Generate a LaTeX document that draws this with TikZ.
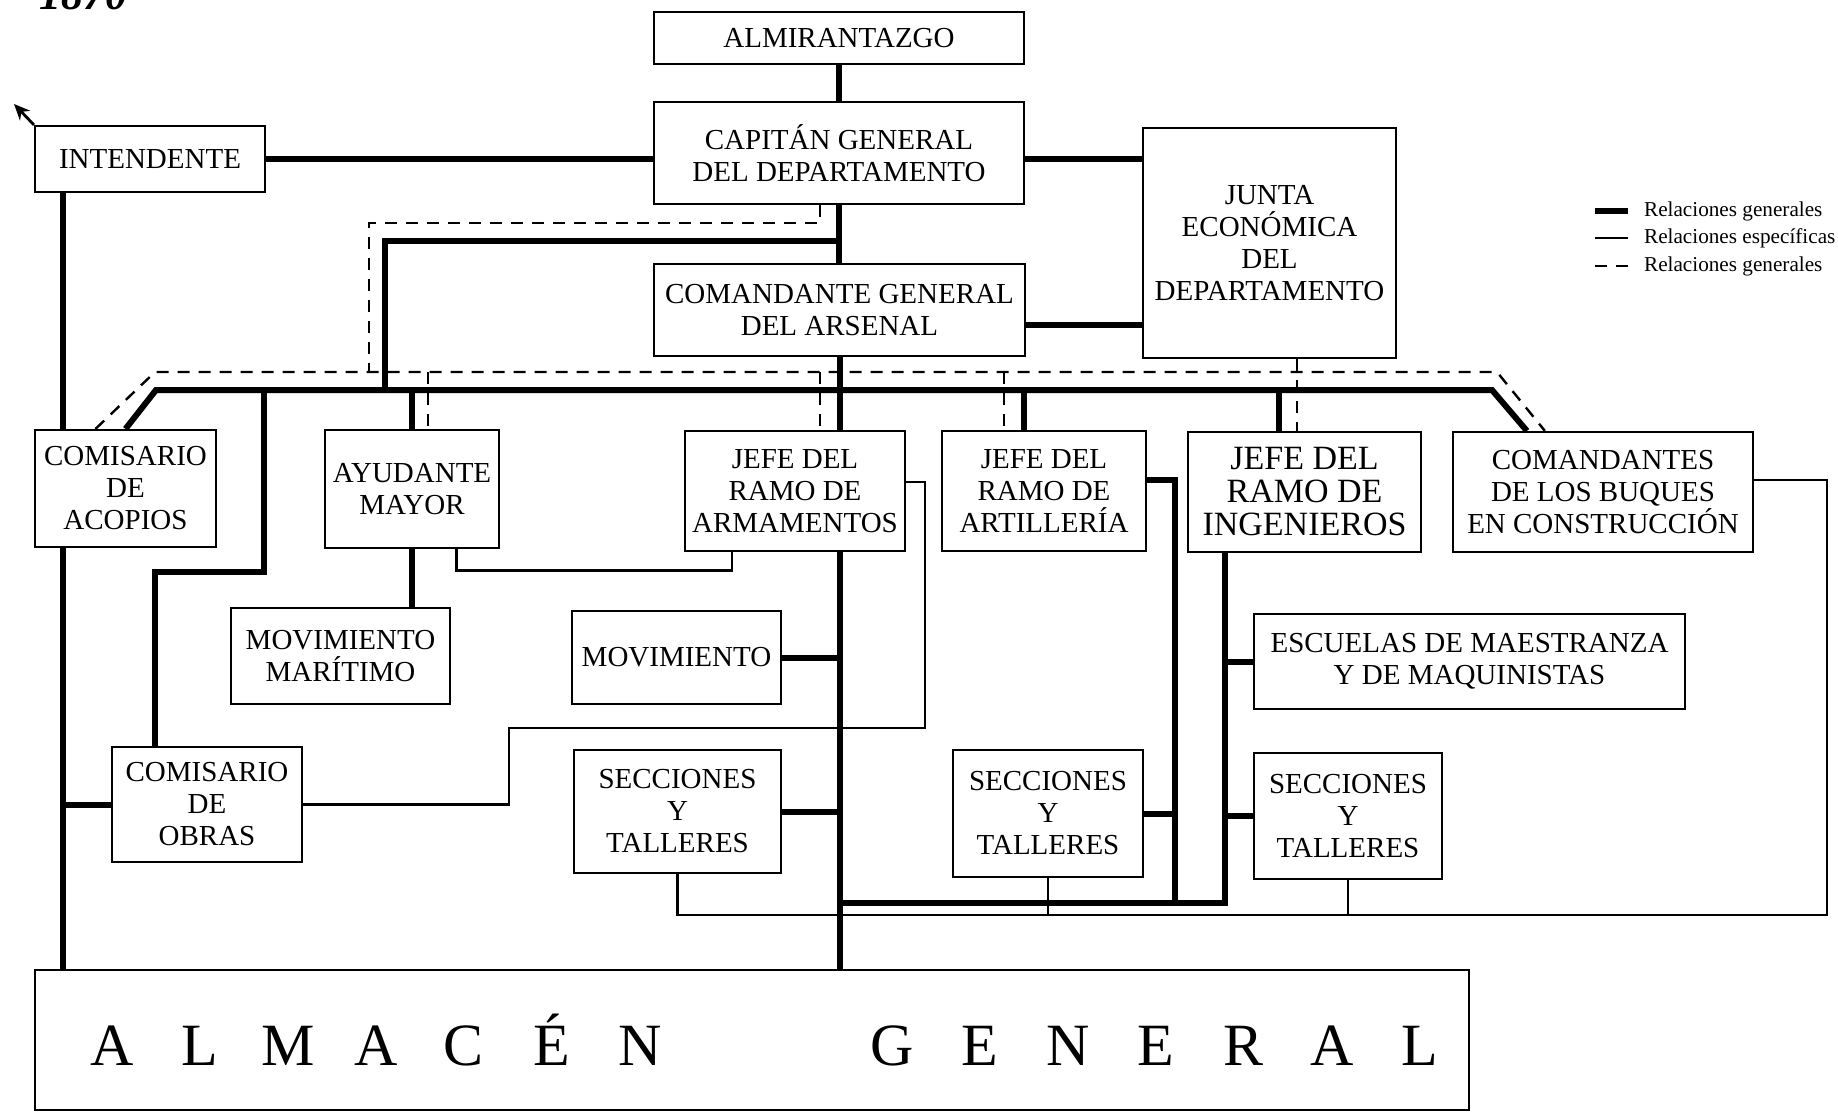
\documentclass[tikz,border=0pt]{standalone}
\usepackage{fontspec}
\setmainfont{Liberation Serif}
\usetikzlibrary{arrows.meta}
\newcommand\letra[1]{\makebox[44pt]{#1}}

\begin{document}
\begin{tikzpicture}
  [x=0.5pt,y=-0.5pt,
   every node/.style={draw,line width=1.1pt,align=center,inner sep=2pt,font=\fontsize{14.5}{16}\selectfont},
   relgen/.style={line width=3pt},
   relesp/.style={line width=1.4pt},
   reldis/.style={line width=1.2pt,dash pattern=on 6pt off 4.5pt}]
  \useasboundingbox (0,0) rectangle (1838,1113);

  \node[draw=none,inner sep=0pt,anchor=base west,font=\bfseries\itshape\fontsize{22}{22}\selectfont] (anio) at (38,10) {1870};

  \node[minimum width=185pt,minimum height=26pt] (alm) at (839,38) {ALMIRANTAZGO};
  \node[minimum width=185pt,minimum height=51pt] (cap) at (839,153) {CAPITÁN GENERAL\\DEL DEPARTAMENTO};
  \node[minimum width=115pt,minimum height=33pt] (int) at (150,159) {INTENDENTE};
  \node[minimum width=126.5pt,minimum height=115pt] (jun) at (1269.5,243) {JUNTA\\ECONÓMICA\\DEL\\DEPARTAMENTO};
  \node[minimum width=185.5pt,minimum height=46pt] (com) at (839.5,310) {COMANDANTE GENERAL\\DEL ARSENAL};
  \node[minimum width=90.5pt,minimum height=58.5pt] (aco) at (125.5,488.5) {COMISARIO\\DE\\ACOPIOS};
  \node[minimum width=87pt,minimum height=59pt] (ayu) at (412,489) {AYUDANTE\\MAYOR};
  \node[minimum width=110pt,minimum height=60pt] (arm) at (795,491) {JEFE DEL\\RAMO DE\\ARMAMENTOS};
  \node[minimum width=102pt,minimum height=60pt] (art) at (1044,491) {JEFE DEL\\RAMO DE\\ARTILLERÍA};
  \node[minimum width=116.5pt,minimum height=60pt,font=\fontsize{17}{16.5}\selectfont] (ing) at (1304.5,492) {JEFE DEL\\RAMO DE\\INGENIEROS};
  \node[minimum width=150pt,minimum height=60pt] (buq) at (1603,492) {COMANDANTES\\DE LOS BUQUES\\EN CONSTRUCCIÓN};
  \node[minimum width=109.5pt,minimum height=48pt] (mma) at (340.5,656) {MOVIMIENTO\\MARÍTIMO};
  \node[minimum width=104.5pt,minimum height=46.5pt] (mov) at (676.5,657.5) {MOVIMIENTO};
  \node[minimum width=215.5pt,minimum height=47.5pt] (esc) at (1469.5,661.5) {ESCUELAS DE MAESTRANZA\\Y DE MAQUINISTAS};
  \node[minimum width=95pt,minimum height=57.5pt] (obr) at (207,804.5) {COMISARIO\\DE\\OBRAS};
  \node[minimum width=103.5pt,minimum height=61.5pt] (se1) at (677.5,811.5) {SECCIONES\\Y\\TALLERES};
  \node[minimum width=95pt,minimum height=63.5pt] (se2) at (1048,813.5) {SECCIONES\\Y\\TALLERES};
  \node[minimum width=94pt,minimum height=63pt] (se3) at (1348,816) {SECCIONES\\Y\\TALLERES};
  \node[minimum width=717pt,minimum height=70pt,font=\fontsize{30}{30}\selectfont] (almg) at (752,1040)
    {\hspace{14pt}\letra{A}\letra{L}\letra{M}\letra{A}\letra{C}\letra{É}\letra{N}\hspace{82pt}\letra{G}\letra{E}\letra{N}\letra{E}\letra{R}\letra{A}\letra{L}};

  % leyenda
  \node[draw=none,anchor=west,inner sep=0pt,font=\fontsize{10.6}{12}\selectfont] (lg1) at (1643,211) {Relaciones generales};
  \node[draw=none,anchor=west,inner sep=0pt,font=\fontsize{10.6}{12}\selectfont] (lg2) at (1643,238) {Relaciones específicas};
  \node[draw=none,anchor=west,inner sep=0pt,font=\fontsize{10.6}{12}\selectfont] (lg3) at (1643,266) {Relaciones generales};
  \draw[relgen] ([xshift=-24pt]lg1.west) -- ([xshift=-7.5pt]lg1.west);
  \draw[relesp] ([xshift=-24pt]lg2.west) -- ([xshift=-7.5pt]lg2.west);
  \draw[reldis] ([xshift=-24pt]lg3.west) -- ([xshift=-7.5pt]lg3.west);

  \coordinate (flecha) at (14,104);
  \coordinate (busL) at (156,390);
  \coordinate (busR) at (1492,390);
  \coordinate (tr1) at (839,241);
  \coordinate (b1) at (385,390);
  \coordinate (dObr) at (264,390);
  \coordinate (codoObr) at (155,572);
  \coordinate (dArt) at (1024,390);
  \coordinate (dIng) at (1279,390);
  \coordinate (bbL) at (839,903);
  \coordinate (ra) at (1175,480);
  \coordinate (pie) at (1827,915);
  \coordinate (q1) at (925,728);
  \coordinate (q2) at (509,728);
  \coordinate (dL) at (155,372);
  \coordinate (dR) at (1497,372);
  \coordinate (lz) at (369,223);
  \coordinate (cj) at ([yshift=-7.5pt]com.east);
  \coordinate (buqN) at ([xshift=37.5pt]buq.north west);
  \coordinate (buqD) at ([xshift=46.5pt]buq.north west);
  \coordinate (buqE) at ([yshift=6pt]buq.east);
  \coordinate (ingS) at ([xshift=19pt]ing.south west);
  \coordinate (intS) at ([xshift=14.5pt]int.south west);
  \coordinate (ayuB) at ([xshift=-22pt]ayu.south east);
  \coordinate (armB) at ([xshift=24pt]arm.south west);
  \coordinate (armE) at ([yshift=4.5pt]arm.east);
  \coordinate (junS) at ([xshift=13.75pt]jun.south);
  \coordinate (capS) at ([xshift=-9.5pt]cap.south);

  \draw[relesp,-{Stealth[length=8pt,width=7pt]}] (int.north west) -- (flecha);

  % relaciones generales
  \draw[relgen] (alm) -- (cap);
  \draw[relgen] (cap.south) -- (cap.south |- com.north);
  \draw[relgen] (int.east) -- (int.east -| cap.west);
  \draw[relgen] (int.east -| cap.east) -- (int.east -| jun.west);
  \draw[relgen] (cj) -- (cj -| jun.west);
  \draw[relgen] (tr1) -| (b1);
  \draw[relgen] (aco.north) -- (busL) -- (busR) -- (buqN);
  \draw[relgen] (com.south) -- (com.south |- arm.north);
  \draw[relgen] (com.south |- arm.south) -- (com.south |- almg.north);
  \draw[relgen] (ayu.north) -- (ayu.north |- busL);
  \foreach \d/\n in {dArt/art,dIng/ing}
    \draw[relgen] (\d) -- (\d |- \n.north);
  \draw[relgen] (dObr) |- (codoObr) -- (codoObr |- obr.north);
  \draw[relgen] (ayu.south) -- (ayu.south |- mma.north);
  \foreach \n in {mov,se1}
    \draw[relgen] (\n.east) -- (\n.east -| com.south);
  \draw[relgen] (art.east |- ra) -- (ra) -- (ra |- bbL);
  \draw[relgen] (se2.east) -- (se2.east -| ra);
  \draw[relgen] (ingS) -- (ingS |- bbL) -- (bbL);
  \foreach \n in {esc,se3}
    \draw[relgen] (\n.west) -- (\n.west -| ingS);
  \draw[relgen] (intS) -- (intS |- aco.north);
  \draw[relgen] (intS |- aco.south) -- (intS |- almg.north);
  \draw[relgen] (obr.west) -- (obr.west -| intS);

  % relaciones especificas
  \draw[relesp] (ayuB) -- ++(0,21) -| (armB);
  \draw[relesp] (armE) -| (q1) -- (q2) |- (obr.east);
  \draw[relesp] (se1.south) |- (pie) |- (buqE);
  \foreach \n in {se2,se3}
    \draw[relesp] (\n.south) -- (\n.south |- pie);

  % relaciones discontinuas
  \draw[reldis] ([xshift=-15pt]aco.north) -- (dL) -- (dR) -- (buqD);
  \foreach \x/\n in {428/ayu,820/arm,1004/art}
    \draw[reldis] (\x,372) -- (\n.north -| \x,0);
  \draw[reldis] (junS) -- (junS |- ing.north);
  \draw[reldis] (capS) |- (lz) -- (lz |- dL);
\end{tikzpicture}
\end{document}
